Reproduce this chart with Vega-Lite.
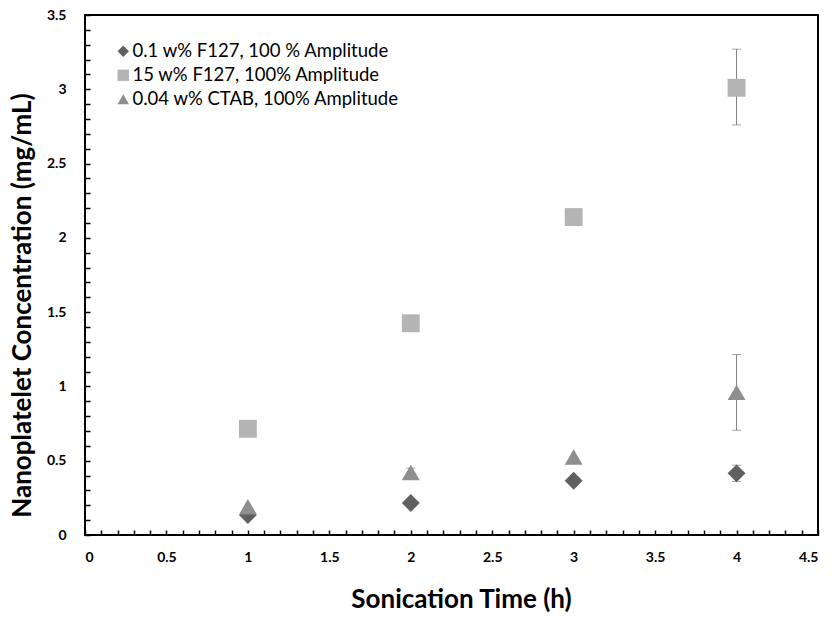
{
  "$schema": "https://vega.github.io/schema/vega-lite/v6.json",
  "width": 733,
  "height": 520,
  "autosize": {"type": "none"},
  "padding": {"left": 85, "top": 15, "right": 17, "bottom": 82},
  "background": "white",
  "config": {
    "view": {"stroke": "black", "strokeWidth": 2},
    "font": "Lato",
    "axis": {
      "domain": false,
      "grid": false,
      "tickColor": "black",
      "tickWidth": 1.5,
      "tickSize": -5,
      "labelFont": "Lato",
      "labelFontWeight": "bold",
      "labelFontSize": 14,
      "labelColor": "black",
      "labelOverlap": false,
      "titleFont": "Lato",
      "titleFontWeight": "bold",
      "titleFontSize": 26,
      "titleColor": "black"
    }
  },
  "data": {
    "values": [
      {"series": "0.1 w% F127, 100 % Amplitude", "x": 1, "y": 0.135, "lo": null, "hi": null},
      {"series": "0.1 w% F127, 100 % Amplitude", "x": 2, "y": 0.215, "lo": null, "hi": null},
      {"series": "0.1 w% F127, 100 % Amplitude", "x": 3, "y": 0.365, "lo": null, "hi": null},
      {"series": "0.1 w% F127, 100 % Amplitude", "x": 4, "y": 0.415, "lo": 0.36, "hi": 0.47},
      {"series": "15 w% F127, 100% Amplitude", "x": 1, "y": 0.715, "lo": null, "hi": null},
      {"series": "15 w% F127, 100% Amplitude", "x": 2, "y": 1.425, "lo": null, "hi": null},
      {"series": "15 w% F127, 100% Amplitude", "x": 3, "y": 2.14, "lo": null, "hi": null},
      {"series": "15 w% F127, 100% Amplitude", "x": 4, "y": 3.01, "lo": 2.76, "hi": 3.27},
      {"series": "0.04 w% CTAB, 100% Amplitude", "x": 1, "y": 0.19, "lo": null, "hi": null},
      {"series": "0.04 w% CTAB, 100% Amplitude", "x": 2, "y": 0.42, "lo": 0.39, "hi": 0.45},
      {"series": "0.04 w% CTAB, 100% Amplitude", "x": 3, "y": 0.525, "lo": null, "hi": null},
      {"series": "0.04 w% CTAB, 100% Amplitude", "x": 4, "y": 0.96, "lo": 0.705, "hi": 1.215}
    ]
  },
  "encoding": {
    "x": {
      "field": "x", "type": "quantitative",
      "scale": {"domain": [0, 4.5], "nice": false, "zero": false},
      "axis": {
        "title": "Sonication Time (h)",
        "values": [0,0.1,0.2,0.3,0.4,0.5,0.6,0.7,0.8,0.9,1,1.1,1.2,1.3,1.4,1.5,1.6,1.7,1.8,1.9,2,2.1,2.2,2.3,2.4,2.5,2.6,2.7,2.8,2.9,3,3.1,3.2,3.3,3.4,3.5,3.6,3.7,3.8,3.9,4,4.1,4.2,4.3,4.4,4.5],
        "labelExpr": "abs(datum.value*2 - round(datum.value*2)) < 0.001 ? format(datum.value, '~g') : ''",
        "labelPadding": 20,
        "titleX": 376,
        "titleY": 64,
        "titleBaseline": "middle",
        "titleAnchor": "middle"
      }
    },
    "y": {
      "field": "y", "type": "quantitative",
      "scale": {"domain": [0, 3.5], "nice": false},
      "axis": {
        "title": "Nanoplatelet Concentration (mg/mL)",
        "values": [0,0.1,0.2,0.3,0.4,0.5,0.6,0.7,0.8,0.9,1,1.1,1.2,1.3,1.4,1.5,1.6,1.7,1.8,1.9,2,2.1,2.2,2.3,2.4,2.5,2.6,2.7,2.8,2.9,3,3.1,3.2,3.3,3.4,3.5],
        "labelExpr": "abs(datum.value*2 - round(datum.value*2)) < 0.001 ? format(datum.value, '~g') : ''",
        "labelPadding": 24,
        "titleX": -63,
        "titleY": 290,
        "titleAngle": -90,
        "titleBaseline": "middle",
        "titleAnchor": "middle"
      }
    }
  },
  "layer": [
    {
      "mark": {"type": "rule", "color": "#7f7f7f", "strokeWidth": 1},
      "encoding": {
        "y": {"field": "lo", "type": "quantitative"},
        "y2": {"field": "hi"}
      }
    },
    {
      "mark": {"type": "tick", "orient": "horizontal", "color": "#7f7f7f", "thickness": 1, "size": 9},
      "encoding": {"y": {"field": "lo", "type": "quantitative"}}
    },
    {
      "mark": {"type": "tick", "orient": "horizontal", "color": "#7f7f7f", "thickness": 1, "size": 9},
      "encoding": {"y": {"field": "hi", "type": "quantitative"}}
    },
    {
      "mark": {"type": "point", "filled": true, "opacity": 1, "strokeWidth": 0, "size": 320},
      "encoding": {
        "shape": {
          "field": "series", "type": "nominal",
          "scale": {
            "domain": ["0.1 w% F127, 100 % Amplitude", "15 w% F127, 100% Amplitude", "0.04 w% CTAB, 100% Amplitude"],
            "range": ["diamond", "square", "triangle-up"]
          },
          "legend": {
            "title": null,
            "orient": "none",
            "legendX": 29,
            "legendY": 27,
            "padding": 0,
            "labelFont": "Lato",
            "labelFontSize": 18.5,
            "labelColor": "black",
            "labelOffset": 0,
            "rowPadding": 5,
            "symbolSize": 130,
            "symbolStrokeWidth": 0,
            "labelLimit": 400
          }
        },
        "color": {
          "field": "series", "type": "nominal",
          "scale": {
            "domain": ["0.1 w% F127, 100 % Amplitude", "15 w% F127, 100% Amplitude", "0.04 w% CTAB, 100% Amplitude"],
            "range": ["#606060", "#b4b4b4", "#8e8e8e"]
          },
          "legend": {
            "title": null,
            "orient": "none",
            "legendX": 29,
            "legendY": 27,
            "padding": 0,
            "labelFont": "Lato",
            "labelFontSize": 18.5,
            "labelColor": "black",
            "labelOffset": 0,
            "rowPadding": 5,
            "symbolSize": 130,
            "symbolStrokeWidth": 0,
            "labelLimit": 400
          }
        }
      }
    }
  ]
}
